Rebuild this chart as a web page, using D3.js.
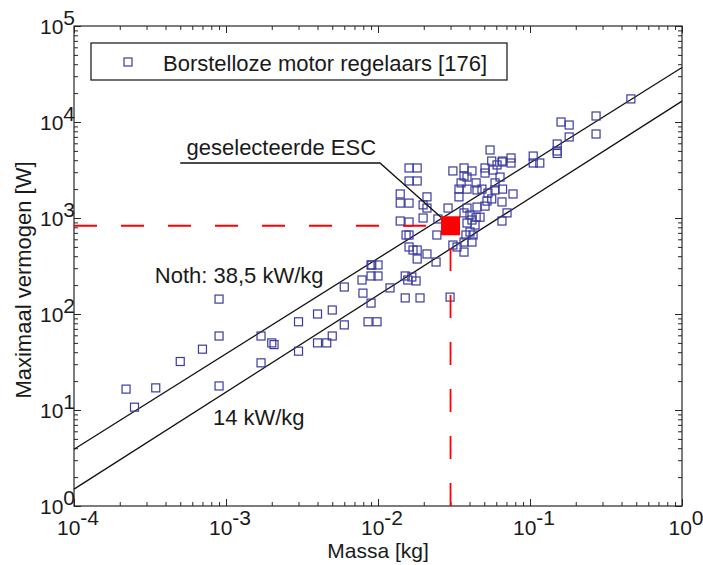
<!DOCTYPE html>
<html>
<head>
<meta charset="utf-8">
<script src="https://cdn.jsdelivr.net/npm/d3@7"></script>
<style>
  body { margin: 0; background: #fff; }
  svg text { font-family: "Liberation Sans", Arial, sans-serif; fill: #1a1a1a; }
</style>
</head>
<body>
<svg id="chart" width="703" height="565"></svg>
<script>
// ESC data: mass in gram, max power in W
var massG = [0.90, 0.90, 0.70, 0.50, 0.22, 0.345, 0.25, 0.90, 1.70, 1.70, 2.0, 2.07, 3.0, 3.0, 4.0, 4.0, 4.6, 5.0, 5.0, 6.0,
  6.0, 7.85, 7.96, 9.0, 8.6, 9.85, 9.0, 9.0, 10, 10,
  54.6, 56, 66, 75, 75, 105, 105, 16.0, 18.1, 16.0, 18.1, 31.1, 36.8, 36.8, 41.5, 50.6, 50.6, 57.1, 60.7, 35.2,
  38.5, 44.2, 58.9, 58.9, 66, 77.3, 34.1, 38.5, 34.1, 44.8, 48.3, 52.9, 56, 52.1, 65.4, 14.0, 14.0, 16.0, 21.0, 19.8,
  21.0, 28.9, 38.5, 36.8, 44.8, 46.9, 44.2, 50.6, 40.3, 41.5, 70.6, 14.0, 16.0, 19.8, 24.8, 38.5, 43.5, 40.3, 15.3, 16.0,
  24.4, 37.9, 42.2, 41.5, 36.8, 31.1, 33.1, 16.0, 17.0, 18.1, 36.8, 21.0, 18.1, 24.1, 9.1, 15.1, 16.7, 15.7, 17.8, 12.0,
  15.1, 18.9, 29.8,
  461, 272, 160, 181, 181, 272, 151, 151, 151, 116, 65.4, 63.5, 65.4];
var powerW = [143, 59, 43, 32, 16.5, 17, 10.7, 17.8, 59, 31, 50, 48, 83, 41, 100, 50, 50, 110, 59, 191,
  77, 226, 165, 130, 83, 83, 324, 249, 324, 249,
  5110, 3920, 3920, 4220, 3740, 4420, 3740, 3320, 3320, 2430, 2430, 3090, 3320, 2740, 3090, 3320, 2940, 3160, 3570, 2320,
  2670, 2320, 2320, 1960, 2000, 1780, 2000, 2000, 1660, 1960, 2000, 1820, 1580, 1500, 1470, 1780, 1430, 1430, 1660, 1370,
  1270, 1270, 1270, 1130, 1300, 1020, 1020, 1330, 1075, 953, 1130, 930, 908, 1000, 977, 887, 845, 715, 665, 665,
  665, 665, 665, 562, 562, 523, 499, 499, 464, 464, 442, 422, 374, 348, 324, 249, 243, 226, 221, 187,
  147, 147, 150,
  17400, 11550, 10000, 9300, 6980, 7500, 5900, 4990, 4700, 3740, 3830, 2670, 930];

// the two power density lines, [mass kg, power W] at the plot edges
var lineNoth = [[1e-4, 3.9], [1, 37000]];
var line14 = [[1e-4, 1.5], [1, 16500]];

// selected ESC
var selected = {mass: 0.030, power: 830};

var xTicks = [-4, -3, -2, -1, 0];
var yTicks = [0, 1, 2, 3, 4, 5];
var legendLabel = 'Borstelloze motor regelaars [176]';

var margin = {top: 26, right: 21, bottom: 59, left: 74};
var width = 703 - margin.left - margin.right;
var height = 565 - margin.top - margin.bottom;

var svg = d3.select('#chart');
var g = svg.append('g').attr('transform', 'translate(' + margin.left + ',' + margin.top + ')');

var x = d3.scaleLog().domain([1e-4, 1]).range([0, width]);
var y = d3.scaleLog().domain([1, 1e5]).range([height, 0]);

var majorX = xTicks.map(function (e) { return Math.pow(10, e); });
var majorY = yTicks.map(function (e) { return Math.pow(10, e); });
var minorX = x.ticks().filter(function (v) { return majorX.indexOf(v) < 0; });
var minorY = y.ticks().filter(function (v) { return majorY.indexOf(v) < 0; });

function addAxis (axis, values, size, transform) {
  g.append('g')
    .attr('transform', transform)
    .call(axis.tickValues(values).tickSize(size).tickFormat(''))
    .call(function (sel) {
      sel.select('.domain').remove();
      sel.selectAll('line').attr('stroke', '#262626');
    });
}

addAxis(d3.axisBottom(x), majorX, -7, 'translate(0,' + height + ')');
addAxis(d3.axisBottom(x), minorX, -4, 'translate(0,' + height + ')');
addAxis(d3.axisTop(x), majorX, -7, 'translate(0,0)');
addAxis(d3.axisTop(x), minorX, -4, 'translate(0,0)');
addAxis(d3.axisLeft(y), majorY, -7, 'translate(0,0)');
addAxis(d3.axisLeft(y), minorY, -4, 'translate(0,0)');
addAxis(d3.axisRight(y), majorY, -7, 'translate(' + width + ',0)');
addAxis(d3.axisRight(y), minorY, -4, 'translate(' + width + ',0)');

g.append('rect')
  .attr('width', width)
  .attr('height', height)
  .attr('fill', 'none')
  .attr('stroke', '#262626')
  .attr('stroke-width', 1.2);

// tick labels as 10^n
g.selectAll('.xlabel').data(xTicks).enter().append('text')
  .attr('class', 'xlabel')
  .attr('x', function (d) { return x(Math.pow(10, d)) + 4; })
  .attr('y', height + 29)
  .attr('text-anchor', 'middle')
  .style('font-size', '21px')
  .each(function (d) {
    var t = d3.select(this);
    t.append('tspan').text('10');
    t.append('tspan').attr('dy', -10).text(d);
  });

g.selectAll('.ylabel').data(yTicks).enter().append('text')
  .attr('class', 'ylabel')
  .attr('x', 1)
  .attr('y', function (d) { return y(Math.pow(10, d)) + 8; })
  .attr('text-anchor', 'end')
  .style('font-size', '21px')
  .each(function (d) {
    var t = d3.select(this);
    t.append('tspan').text('10');
    t.append('tspan').attr('dy', -9).text(d);
  });

svg.append('text')
  .attr('x', margin.left + width / 2)
  .attr('y', 558)
  .attr('text-anchor', 'middle')
  .style('font-size', '21px')
  .text('Massa [kg]');

svg.append('text')
  .attr('transform', 'translate(31,280) rotate(-90)')
  .attr('text-anchor', 'middle')
  .style('font-size', '22px')
  .text('Maximaal vermogen [W]');

// power density lines
var line = d3.line()
  .x(function (d) { return x(d[0]); })
  .y(function (d) { return y(d[1]); });

[lineNoth, line14].forEach(function (l) {
  g.append('path')
    .attr('d', line(l))
    .attr('fill', 'none')
    .attr('stroke', '#111')
    .attr('stroke-width', 1.3);
});

// scatter
var points = massG.map(function (m, i) { return {mass: m / 1000, power: powerW[i]}; });
var s = 8;
g.selectAll('.pt').data(points).enter().append('rect')
  .attr('class', 'pt')
  .attr('x', function (d) { return x(d.mass) - s / 2; })
  .attr('y', function (d) { return y(d.power) - s / 2; })
  .attr('width', s)
  .attr('height', s)
  .attr('fill', 'none')
  .attr('stroke', '#3b3b9e')
  .attr('stroke-width', 1.2);

// selected ESC: dashed guides, annotation and red square
g.append('line')
  .attr('x1', x(1e-4)).attr('y1', y(selected.power))
  .attr('x2', x(selected.mass)).attr('y2', y(selected.power))
  .attr('stroke', '#ff0000').attr('stroke-width', 1.8).attr('stroke-dasharray', '23,24');
g.append('line')
  .attr('x1', x(selected.mass)).attr('y1', y(1))
  .attr('x2', x(selected.mass)).attr('y2', y(selected.power))
  .attr('stroke', '#ff0000').attr('stroke-width', 1.8).attr('stroke-dasharray', '23,24');

var annot = [[5.0e-4, 3740], [0.0103, 3740], [selected.mass, selected.power]];
g.append('path')
  .attr('d', line(annot))
  .attr('fill', 'none')
  .attr('stroke', '#111')
  .attr('stroke-width', 1.3);

g.append('rect')
  .attr('x', x(selected.mass) - 9.5)
  .attr('y', y(selected.power) - 9.5)
  .attr('width', 19)
  .attr('height', 19)
  .attr('fill', '#ff0000');

g.append('text')
  .attr('x', x(5.5e-4))
  .attr('y', y(4530))
  .style('font-size', '22px')
  .text('geselecteerde ESC');

g.append('text')
  .attr('x', x(3.4e-4))
  .attr('y', y(210))
  .style('font-size', '22px')
  .text('Noth: 38,5 kW/kg');

g.append('text')
  .attr('x', x(8.2e-4))
  .attr('y', y(6.9))
  .style('font-size', '22px')
  .text('14 kW/kg');

// legend
var legend = svg.append('g').attr('transform', 'translate(91,43)');
legend.append('rect')
  .attr('width', 416)
  .attr('height', 37)
  .attr('fill', '#fff')
  .attr('stroke', '#222')
  .attr('stroke-width', 1.3);
legend.append('rect')
  .attr('x', 37 - s / 2)
  .attr('y', 19 - s / 2)
  .attr('width', s)
  .attr('height', s)
  .attr('fill', 'none')
  .attr('stroke', '#3b3b9e')
  .attr('stroke-width', 1.2);
legend.append('text')
  .attr('x', 72)
  .attr('y', 28)
  .style('font-size', '22px')
  .text(legendLabel);
</script>
</body>
</html>
